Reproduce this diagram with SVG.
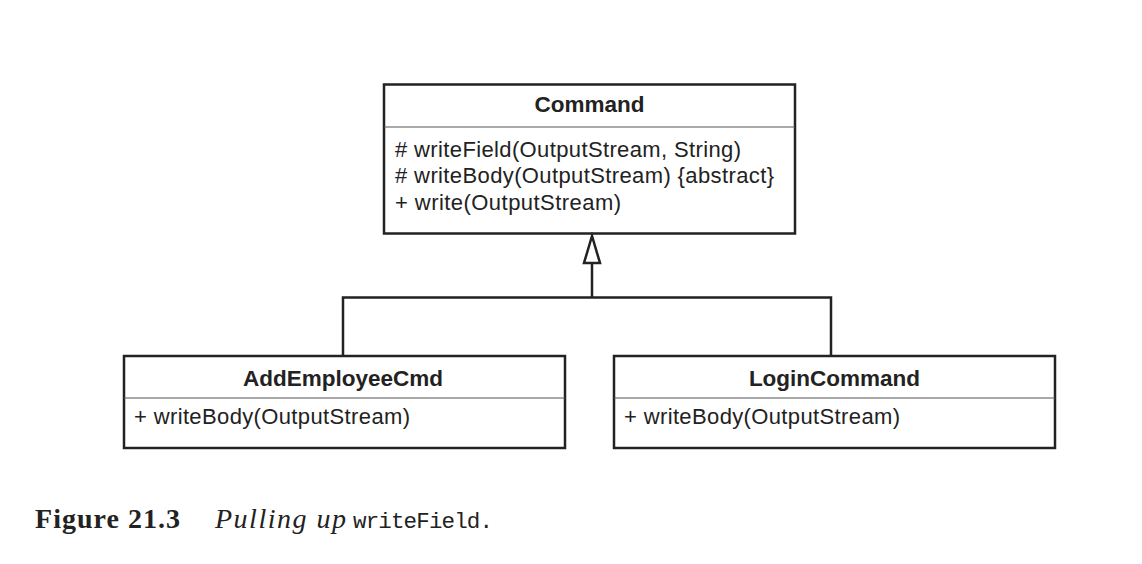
<svg xmlns="http://www.w3.org/2000/svg" width="1142" height="564" viewBox="0 0 1142 564">
<style>
.box{fill:#fff;stroke:#222;stroke-width:2.5}
.div{stroke:#555;stroke-width:1.2}
.title{font-family:"Liberation Sans",Arial,sans-serif;font-weight:bold;font-size:22.5px;fill:#222;text-anchor:middle}
.op{font-family:"Liberation Sans",Arial,sans-serif;font-size:22px;fill:#222}
.conn{fill:none;stroke:#222;stroke-width:2.5}
.cap{font-family:"Liberation Serif","Times New Roman",serif;font-size:28px;fill:#222}
</style>
<rect width="1142" height="564" fill="#fff"/>
<g id="Command">
<rect class="box" x="384" y="84.5" width="411" height="149"/>
<line class="div" x1="384" y1="127" x2="795" y2="127"/>
<text class="title" x="589.5" y="112">Command</text>
<text class="op" x="395" y="157" textLength="346">#  writeField(OutputStream, String)</text>
<text class="op" x="395" y="183" textLength="379"># writeBody(OutputStream) {abstract}</text>
<text class="op" x="395" y="210"  textLength="226">+ write(OutputStream)</text>
</g>
<g id="AddEmployeeCmd">
<rect class="box" x="124" y="356" width="441" height="92"/>
<line class="div" x1="124" y1="398" x2="565" y2="398"/>
<text class="title" x="343" y="386">AddEmployeeCmd</text>
<text class="op" x="134" y="424" textLength="276">+ writeBody(OutputStream)</text>
</g>
<g id="LoginCommand">
<rect class="box" x="614" y="356" width="441" height="92"/>
<line class="div" x1="614" y1="398" x2="1055" y2="398"/>
<text class="title" x="834.5" y="386">LoginCommand</text>
<text class="op" x="624" y="424" textLength="276">+ writeBody(OutputStream)</text>
</g>
<g id="connectors">
<polyline class="conn" points="343,356 343,297.5 831,297.5 831,356"/>
<line class="conn" x1="592" y1="297.5" x2="592" y2="263"/>
<polygon class="conn" points="592,236 584,263 600,263" fill="#fff"/>
</g>
<g id="caption">
<text class="cap" x="35" y="528" font-weight="bold" textLength="145">Figure 21.3</text>
<text class="cap" x="215" y="528" font-style="italic" textLength="131">Pulling up</text>
<text x="353" y="528" font-family="'Liberation Mono','Courier New',monospace" font-size="22.5" fill="#222" textLength="140">writeField.</text>
</g>
</svg>
